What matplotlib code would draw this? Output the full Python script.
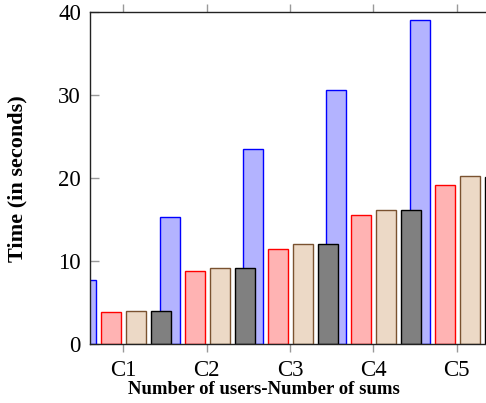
import matplotlib
matplotlib.use("Agg")
import matplotlib.pyplot as plt
import numpy as np

plt.rcParams['font.family'] = ['Liberation Serif', 'DejaVu Serif']

# data
groups = ['C1', 'C2', 'C3', 'C4', 'C5']
series_a = [7.7, 15.3, 23.5, 30.6, 39.0]     # blue
series_b = [3.8, 8.8, 11.5, 15.5, 19.1]      # red
series_c = [4.0, 9.1, 12.1, 16.1, 20.2]      # tan
series_d = [4.0, 9.1, 12.0, 16.2, 20.1]      # gray

fig = plt.figure(figsize=(4.86, 4.03), dpi=100)
ax = fig.add_axes([90 / 486, 59 / 403, 410 / 486, 332 / 403])

x = np.arange(1, len(groups) + 1)
w = 0.24
styles = [
    (series_a, -0.445, '#b3b3ff', 'blue'),
    (series_b, -0.145, '#ffb3b3', 'red'),
    (series_c, 0.155, '#ecd9c6', '#7a5230'),
    (series_d, 0.455, '#808080', 'black'),
]
for vals, off, fc, ec in styles:
    ax.bar(x + off, vals, width=w, color=fc, edgecolor=ec, linewidth=1.0, zorder=2)

ax.set_xlim(0.6, 5.52)
ax.set_ylim(0, 40)
ax.set_xticks(x)
ax.set_xticklabels(groups)
ax.set_yticks([0, 10, 20, 30, 40])

ax.tick_params(axis='x', direction='out', length=6, color='#999999', width=1,
               top=True, labelsize=16.5, pad=5.5)
ax.tick_params(axis='y', direction='in', length=6.5, color='#999999', width=1,
               right=True, labelsize=16.5, pad=6.5)
for s in ax.spines.values():
    s.set_linewidth(1.0)
    s.set_color('#222222')

ax.set_xlabel('Number of users-Number of sums', fontsize=13.5, fontweight='bold')
ax.set_ylabel('Time (in seconds)', fontsize=16, fontweight='bold')
ax.xaxis.set_label_coords((264 - 90) / 410, -(389 - 344) / 332)
ax.yaxis.set_label_coords(-(90 - 17) / 410, (344 - 179) / 332)
ax.xaxis.label.set_va('center')
ax.yaxis.label.set_va('center')

fig.savefig('out.png', dpi=100)
